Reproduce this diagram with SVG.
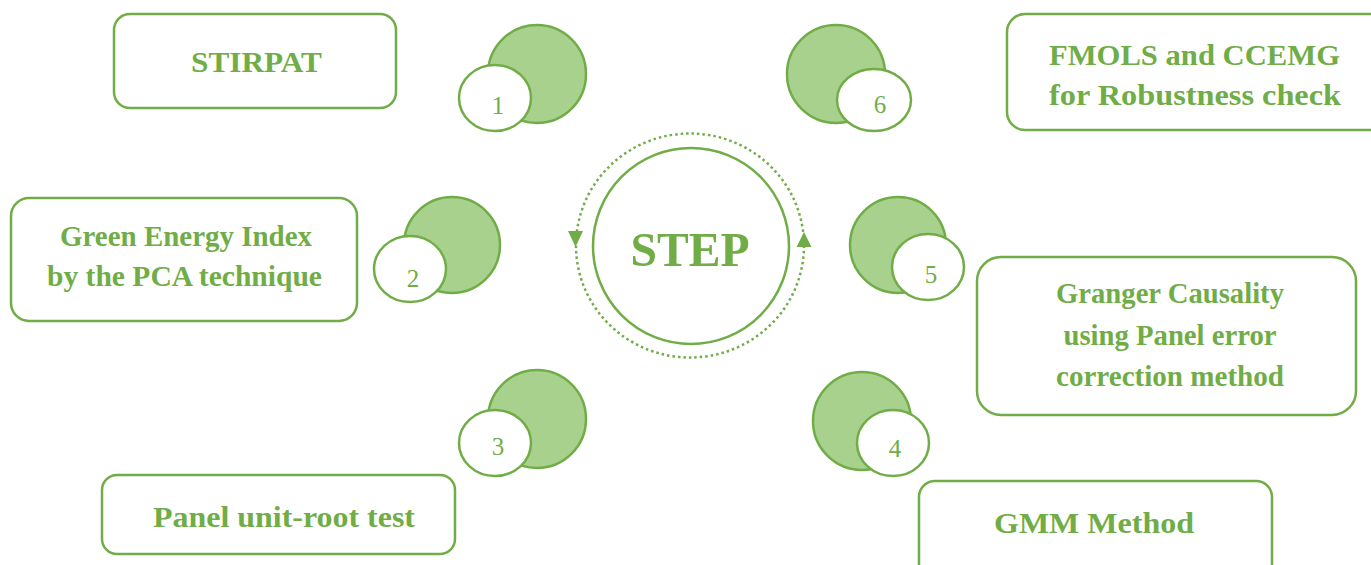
<svg xmlns="http://www.w3.org/2000/svg" width="1371" height="565" viewBox="0 0 1371 565">
<defs>
<style>
.box{fill:#fff;stroke:#70AD47;stroke-width:2.5}
.big{fill:#A9D18E;stroke:#70AD47;stroke-width:2.5}
.small{fill:#fff;stroke:#70AD47;stroke-width:2.5}
.lbl{font-family:"Liberation Serif","Times New Roman",serif;font-weight:bold;font-size:29px;fill:#70AD47;text-anchor:middle}
.num{font-family:"Liberation Serif","Times New Roman",serif;font-size:25px;fill:#70AD47;text-anchor:middle}
.step{font-family:"Liberation Serif","Times New Roman",serif;font-weight:bold;font-size:49px;fill:#70AD47;text-anchor:middle}
.arr{fill:#70AD47}
</style>
</defs>
<rect width="1371" height="565" fill="#fff"/>
<g id="connectors">
<ellipse cx="690" cy="245.5" rx="114" ry="112" fill="none" stroke="#70AD47" stroke-width="2.5" stroke-dasharray="2.5 3"/>
<polygon class="arr" points="568,231 583,231 575.5,247"/>
<polygon class="arr" points="796.5,247 811.5,247 804,232"/>
</g>
<g id="center">
<circle cx="691" cy="246" r="98" fill="#fff" stroke="#70AD47" stroke-width="2.5"/>
<text class="step" x="690" y="266" textLength="119" lengthAdjust="spacingAndGlyphs">STEP</text>
</g>
<g id="step1">
<rect class="box" x="114" y="14" width="282" height="94" rx="16"/>
<text class="lbl" x="256.5" y="72" textLength="131" lengthAdjust="spacingAndGlyphs">STIRPAT</text>
<circle class="big" cx="537" cy="74" r="49"/>
<ellipse class="small" cx="495" cy="98" rx="36" ry="33"/>
<text class="num" x="498" y="114">1</text>
</g>
<g id="step2">
<rect class="box" x="11" y="198" width="346" height="123" rx="18"/>
<text class="lbl" x="186" y="246" textLength="252" lengthAdjust="spacingAndGlyphs">Green Energy Index</text>
<text class="lbl" x="184.5" y="286" textLength="275" lengthAdjust="spacingAndGlyphs">by the PCA technique</text>
<circle class="big" cx="452" cy="245" r="48"/>
<ellipse class="small" cx="410" cy="269" rx="36" ry="33"/>
<text class="num" x="413" y="287">2</text>
</g>
<g id="step3">
<rect class="box" x="102" y="475" width="353" height="79" rx="15"/>
<text class="lbl" x="284" y="527" textLength="262" lengthAdjust="spacingAndGlyphs">Panel unit-root test</text>
<circle class="big" cx="537" cy="419" r="49"/>
<ellipse class="small" cx="495" cy="443" rx="36" ry="33"/>
<text class="num" x="498" y="455">3</text>
</g>
<g id="step4">
<rect class="box" x="919" y="481" width="353" height="100" rx="16"/>
<text class="lbl" x="1094" y="533" textLength="200" lengthAdjust="spacingAndGlyphs">GMM Method</text>
<circle class="big" cx="862" cy="421" r="49"/>
<ellipse class="small" cx="893" cy="443" rx="36" ry="33"/>
<text class="num" x="895" y="457">4</text>
</g>
<g id="step5">
<rect class="box" x="977" y="257" width="379" height="158" rx="24"/>
<text class="lbl" x="1170" y="303" textLength="228" lengthAdjust="spacingAndGlyphs">Granger Causality</text>
<text class="lbl" x="1170" y="345" textLength="213" lengthAdjust="spacingAndGlyphs">using Panel error</text>
<text class="lbl" x="1170" y="386" textLength="228" lengthAdjust="spacingAndGlyphs">correction method</text>
<circle class="big" cx="898" cy="245" r="48"/>
<ellipse class="small" cx="928" cy="267" rx="36" ry="33"/>
<text class="num" x="931" y="283">5</text>
</g>
<g id="step6">
<rect class="box" x="1007" y="14" width="380" height="116" rx="18"/>
<text class="lbl" x="1194.5" y="65" textLength="291" lengthAdjust="spacingAndGlyphs">FMOLS and CCEMG</text>
<text class="lbl" x="1195" y="105" textLength="292" lengthAdjust="spacingAndGlyphs">for Robustness check</text>
<circle class="big" cx="836" cy="74" r="49"/>
<ellipse class="small" cx="874" cy="100" rx="37" ry="31"/>
<text class="num" x="880" y="113">6</text>
</g>
</svg>
